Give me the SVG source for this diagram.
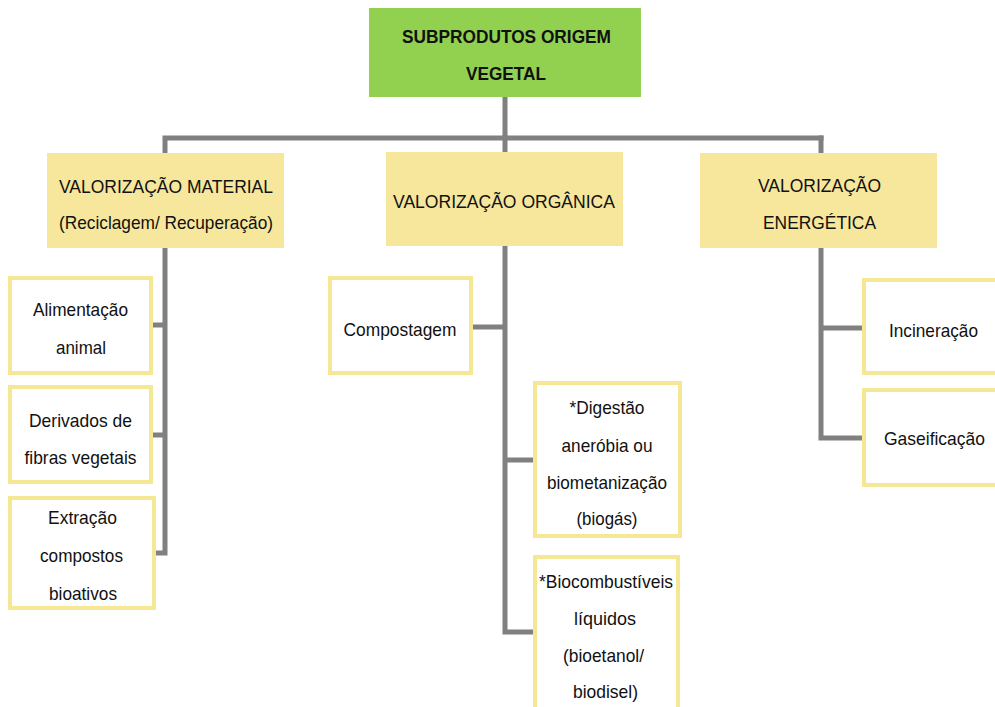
<svg xmlns="http://www.w3.org/2000/svg" width="995" height="707" viewBox="0 0 995 707">
<style>
.t{font-family:"Liberation Sans",Arial,sans-serif;font-size:19px;fill:#111;text-anchor:middle}
.b{font-weight:bold;font-size:19px}
.hdr{fill:#f6e79d}
.box{fill:#fff;stroke:#f6e795;stroke-width:4}
.conn{fill:none;stroke:#808080;stroke-width:5;stroke-linecap:square}
</style>
<rect width="995" height="707" fill="#fff"/>
<g id="connectors" class="conn">
<path d="M505 97V138M165 138H821M165 138V553M153 325H165M153 435H165M156 553H165"/>
<path d="M505 138V632M473 327H505M505 460H533M505 632H533"/>
<path d="M821 138V438M821 328H862M821 438H862"/>
</g>
<g id="root">
<rect x="369" y="8" width="272" height="89" fill="#92d050"/>
<text class="t b" x="506.5" y="43" textLength="209" lengthAdjust="spacingAndGlyphs">SUBPRODUTOS ORIGEM</text>
<text class="t b" x="506" y="80" textLength="80" lengthAdjust="spacingAndGlyphs">VEGETAL</text>
</g>
<g id="material">
<rect class="hdr" x="47" y="153" width="237" height="95"/>
<text class="t" x="166" y="193" textLength="214" lengthAdjust="spacingAndGlyphs">VALORIZAÇÃO MATERIAL</text>
<text class="t" x="166" y="229" textLength="214" lengthAdjust="spacingAndGlyphs">(Reciclagem/ Recuperação)</text>
</g>
<g id="organica">
<rect class="hdr" x="386" y="152" width="237" height="94"/>
<text class="t" x="504" y="208" textLength="222" lengthAdjust="spacingAndGlyphs">VALORIZAÇÃO ORGÂNICA</text>
</g>
<g id="energetica">
<rect class="hdr" x="700" y="153" width="237" height="95"/>
<text class="t" x="819.5" y="192" textLength="123" lengthAdjust="spacingAndGlyphs">VALORIZAÇÃO</text>
<text class="t" x="819.5" y="229" textLength="113" lengthAdjust="spacingAndGlyphs">ENERGÉTICA</text>
</g>
<g id="alimentacao">
<rect class="box" x="10" y="278" width="141" height="95"/>
<text class="t" x="80.5" y="316" textLength="95" lengthAdjust="spacingAndGlyphs">Alimentação</text>
<text class="t" x="81" y="354" textLength="50" lengthAdjust="spacingAndGlyphs">animal</text>
</g>
<g id="derivados">
<rect class="box" x="10" y="387" width="141" height="95"/>
<text class="t" x="80.5" y="427" textLength="103" lengthAdjust="spacingAndGlyphs">Derivados de</text>
<text class="t" x="80.5" y="464" textLength="112" lengthAdjust="spacingAndGlyphs">fibras vegetais</text>
</g>
<g id="extracao">
<rect class="box" x="10" y="498" width="144" height="110"/>
<text class="t" x="82.5" y="524" textLength="69" lengthAdjust="spacingAndGlyphs">Extração</text>
<text class="t" x="81.5" y="562" textLength="83" lengthAdjust="spacingAndGlyphs">compostos</text>
<text class="t" x="83" y="600" textLength="68" lengthAdjust="spacingAndGlyphs">bioativos</text>
</g>
<g id="compostagem">
<rect class="box" x="330" y="278" width="141" height="95"/>
<text class="t" x="400" y="336" textLength="113" lengthAdjust="spacingAndGlyphs">Compostagem</text>
</g>
<g id="digestao">
<rect class="box" x="535" y="383" width="145" height="153"/>
<text class="t" x="607" y="414" textLength="75" lengthAdjust="spacingAndGlyphs">*Digestão</text>
<text class="t" x="607" y="452" textLength="91" lengthAdjust="spacingAndGlyphs">aneróbia ou</text>
<text class="t" x="607" y="489" textLength="120" lengthAdjust="spacingAndGlyphs">biometanização</text>
<text class="t" x="607" y="525" textLength="61" lengthAdjust="spacingAndGlyphs">(biogás)</text>
</g>
<g id="biocombustiveis">
<rect class="box" x="535" y="557" width="143" height="170"/>
<text class="t" x="606" y="588" textLength="134" lengthAdjust="spacingAndGlyphs">*Biocombustíveis</text>
<text class="t" x="605" y="625" textLength="62" lengthAdjust="spacingAndGlyphs">líquidos</text>
<text class="t" x="603.5" y="662" textLength="81" lengthAdjust="spacingAndGlyphs">(bioetanol/</text>
<text class="t" x="605.5" y="698" textLength="65" lengthAdjust="spacingAndGlyphs">biodisel)</text>
</g>
<g id="incineracao">
<rect class="box" x="864" y="280" width="140" height="93"/>
<text class="t" x="933.5" y="337" textLength="89" lengthAdjust="spacingAndGlyphs">Incineração</text>
</g>
<g id="gaseificacao">
<rect class="box" x="864" y="390" width="140" height="95"/>
<text class="t" x="934.5" y="445" textLength="101" lengthAdjust="spacingAndGlyphs">Gaseificação</text>
</g>
</svg>
